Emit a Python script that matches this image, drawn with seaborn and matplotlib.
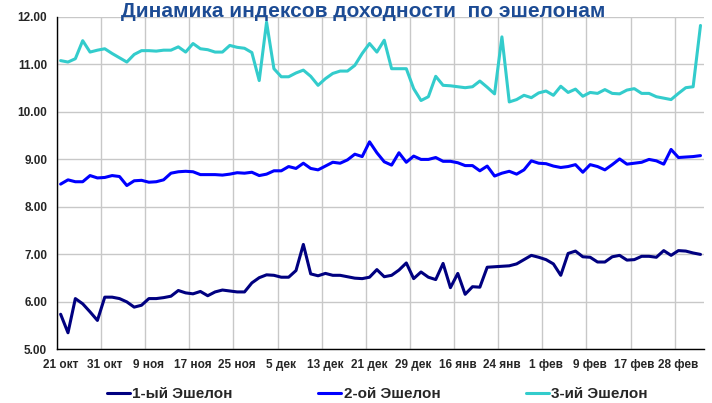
import matplotlib
matplotlib.use('Agg')
import matplotlib.pyplot as plt
import seaborn as sns
import pandas as pd
import numpy as np

# yields by tier, one point per trading day
tier1 = [5.74, 5.35, 6.07, 5.96, 5.79, 5.61, 6.10, 6.10, 6.07, 6.00,
         5.89, 5.93, 6.07, 6.07, 6.09, 6.12, 6.24, 6.19, 6.17, 6.22,
         6.13, 6.21, 6.25, 6.23, 6.21, 6.21, 6.40, 6.51, 6.57, 6.56,
         6.52, 6.52, 6.66, 7.21, 6.59, 6.55, 6.60, 6.56, 6.56, 6.53,
         6.50, 6.49, 6.52, 6.68, 6.53, 6.56, 6.67, 6.82, 6.49, 6.63,
         6.52, 6.47, 6.81, 6.30, 6.60, 6.16, 6.32, 6.31, 6.73, 6.74,
         6.75, 6.76, 6.80, 6.89, 6.98, 6.94, 6.89, 6.80, 6.56, 7.02,
         7.07, 6.95, 6.94, 6.84, 6.84, 6.95, 6.98, 6.88, 6.89, 6.96,
         6.96, 6.94, 7.08, 6.98, 7.08, 7.07, 7.03, 7.00]
tier2 = [8.48, 8.57, 8.53, 8.53, 8.66, 8.61, 8.62, 8.66, 8.64, 8.45,
         8.55, 8.56, 8.52, 8.53, 8.57, 8.71, 8.74, 8.75, 8.74, 8.68,
         8.68, 8.68, 8.67, 8.69, 8.72, 8.71, 8.73, 8.66, 8.69, 8.76,
         8.76, 8.85, 8.81, 8.92, 8.81, 8.78, 8.86, 8.94, 8.92, 8.99,
         9.11, 9.06, 9.37, 9.14, 8.95, 8.88, 9.14, 8.94, 9.07, 9.00,
         9.00, 9.04, 8.96, 8.96, 8.93, 8.87, 8.87, 8.76, 8.86, 8.65,
         8.71, 8.75, 8.69, 8.78, 8.97, 8.92, 8.91, 8.86, 8.83, 8.85,
         8.89, 8.73, 8.89, 8.85, 8.78, 8.89, 9.01, 8.90, 8.92, 8.94,
         9.00, 8.97, 8.90, 9.21, 9.04, 9.05, 9.06, 9.08]
tier3 = [11.08, 11.05, 11.12, 11.50, 11.26, 11.30, 11.33, 11.23, 11.14, 11.05,
         11.21, 11.29, 11.29, 11.28, 11.30, 11.30, 11.37, 11.26, 11.44, 11.33,
         11.31, 11.26, 11.26, 11.40, 11.36, 11.34, 11.25, 10.66, 11.89, 10.91,
         10.74, 10.74, 10.82, 10.88, 10.75, 10.56, 10.70, 10.81, 10.86, 10.86,
         10.98, 11.23, 11.44, 11.26, 11.51, 10.91, 10.91, 10.91, 10.49, 10.24,
         10.32, 10.75, 10.56, 10.55, 10.53, 10.51, 10.53, 10.65, 10.52, 10.38,
         11.58, 10.21, 10.26, 10.35, 10.30, 10.40, 10.44, 10.35, 10.54, 10.41,
         10.48, 10.33, 10.41, 10.39, 10.47, 10.39, 10.38, 10.46, 10.49, 10.39,
         10.39, 10.32, 10.29, 10.26, 10.39, 10.51, 10.53, 11.82]

date_labels = ['21 окт', '31 окт', '9 ноя', '17 ноя', '25 ноя', '5 дек', '13 дек',
               '21 дек', '29 дек', '16 янв', '24 янв', '1 фев', '9 фев', '17 фев',
               '28 фев']
series_names = ['1-ый Эшелон', '2-ой Эшелон', '3-ий Эшелон']
colors = ['#000080', '#0000FF', '#33CCCC']

sns.set_style('white')
plt.rcParams['font.family'] = ['Liberation Sans', 'DejaVu Sans']

n = len(tier1)
day = np.arange(n)

fig = plt.figure(figsize=(7.12, 4.03), dpi=100)
ax = fig.add_axes([0.080, 0.133, 0.909, 0.825])

for vals, name, col in zip([tier1, tier2, tier3], series_names, colors):
    df = pd.DataFrame({'day': day, 'value': vals})
    sns.lineplot(data=df, x='day', y='value', color=col, linewidth=2.2,
                 label=name, ax=ax, legend=False)

ax.set_xlim(-0.5, n - 0.5)
ax.set_ylim(5, 12)
ax.set_yticks(np.arange(5, 12.01, 1))
ax.set_yticklabels(['%.2f' % v for v in np.arange(5, 12.01, 1)])

step = 6
ax.set_xticks(day[::step][:len(date_labels)])
ax.set_xticklabels(date_labels)
ax.set_xticks(np.arange(-0.5, n, step), minor=True)

ax.grid(False)
ax.yaxis.grid(True, color='#C8C8C8', linewidth=1)
ax.xaxis.grid(True, which='minor', color='#C8C8C8', linewidth=1)
ax.set_axisbelow(True)

for s in ['top', 'right']:
    ax.spines[s].set_visible(False)
for s in ['left', 'bottom']:
    ax.spines[s].set_color('black')
    ax.spines[s].set_linewidth(1)

ax.tick_params(axis='x', which='major', length=0, pad=7)
ax.tick_params(axis='x', which='minor', length=3, color='black', direction='out')
ax.tick_params(axis='y', length=3, color='black', direction='out', pad=4)
for lab in ax.get_xticklabels() + ax.get_yticklabels():
    lab.set_fontsize(8.5)
    lab.set_fontweight('bold')
ax.set_xlabel('')
ax.set_ylabel('')

fig.text(0.51, 0.972, 'Динамика индексов доходности  по эшелонам',
         ha='center', va='center', fontsize=15, fontweight='bold', color='#1C4B94')

handles, labels = ax.get_legend_handles_labels()
fig.legend(handles, labels, loc='center', bbox_to_anchor=(0.53, 0.022), ncol=3,
           frameon=False, handlelength=1.5, handletextpad=0.15, columnspacing=5.6,
           prop={'weight': 'bold', 'size': 11})

fig.savefig('out.png', dpi=100)
